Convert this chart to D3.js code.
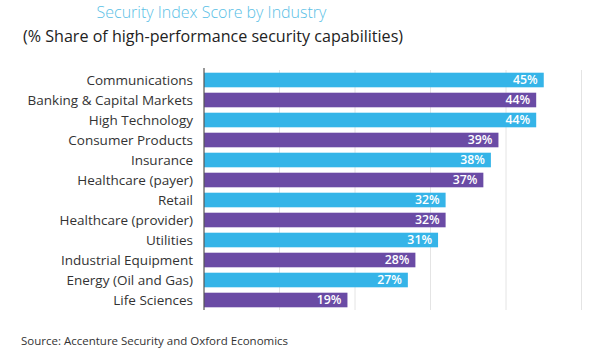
<!DOCTYPE html>
<html><head><meta charset="utf-8">
<script src="https://cdn.jsdelivr.net/npm/d3@7"></script>
<style>body{margin:0;background:#fff}</style>
</head><body>
<svg id="c" width="600" height="360"></svg>
<script>
const categories = ["Communications","Banking & Capital Markets","High Technology","Consumer Products","Insurance","Healthcare (payer)","Retail","Healthcare (provider)","Utilities","Industrial Equipment","Energy (Oil and Gas)","Life Sciences"];
const values = [45,44,44,39,38,37,32,32,31,28,27,19];
const gridTicks = [10,20,30,40,50];
const colors = ["#35b4e8","#6a4ba5"];

const svg = d3.select("#c");
const font = "'Open Sans', sans-serif";
const x = d3.scaleLinear().domain([0,50]).range([204,581.5]);
const y = d3.scaleBand().domain(categories).range([70,310]).paddingInner(0.27).paddingOuter(0.135);

svg.append("text").attr("x",211.5).attr("y",18).attr("text-anchor","middle")
  .attr("font-family",font).attr("font-weight",300).attr("font-size",16).attr("fill","#5bbfe6")
  .text("Security Index Score by Industry");
svg.append("text").attr("x",23).attr("y",42)
  .attr("font-family",font).attr("font-size",16.1).attr("fill","#222")
  .text("(% Share of high-performance security capabilities)");

svg.append("g").selectAll("line").data(gridTicks).join("line")
  .attr("x1",d=>x(d)).attr("x2",d=>x(d)).attr("y1",70).attr("y2",310)
  .attr("stroke","#e4e4e4").attr("stroke-width",1);

svg.append("g").selectAll("rect").data(values).join("rect")
  .attr("x",x(0)).attr("y",(d,i)=>y(categories[i]))
  .attr("width",d=>x(d)-x(0)).attr("height",y.bandwidth())
  .attr("fill",(d,i)=>colors[i%2]);

svg.append("line").attr("x1",x(0)).attr("x2",x(0)).attr("y1",68).attr("y2",310)
  .attr("stroke","#555").attr("stroke-width",1.2);

svg.append("g").selectAll("text").data(categories).join("text")
  .attr("x",193).attr("y",d=>y(d)+y.bandwidth()/2).attr("dy","0.35em")
  .attr("text-anchor","end").attr("font-family",font).attr("font-size",13.5).attr("font-weight",500).attr("fill","#333")
  .text(d=>d);

svg.append("g").selectAll("text").data(values).join("text")
  .attr("x",d=>x(d)-6).attr("y",(d,i)=>y(categories[i])+y.bandwidth()/2).attr("dy","0.36em")
  .attr("text-anchor","end").attr("font-family",font).attr("font-size",12.3).attr("font-weight",600).attr("fill","#fff")
  .text(d=>d+"%");

svg.append("text").attr("x",21).attr("y",345)
  .attr("font-family",font).attr("font-size",11.5).attr("fill","#333")
  .text("Source: Accenture Security and Oxford Economics");
</script>
</body></html>
